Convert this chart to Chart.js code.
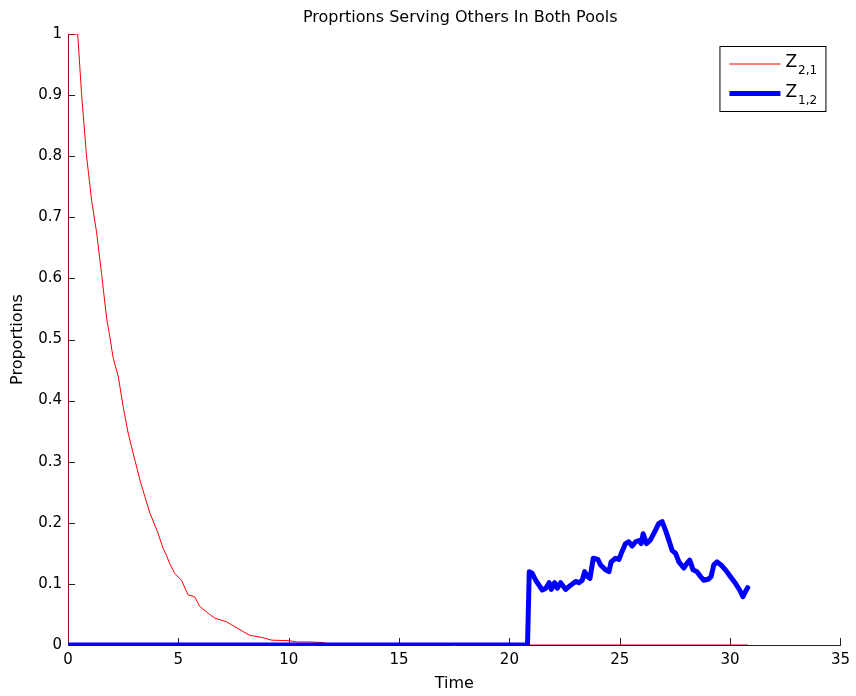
<!DOCTYPE html>
<html>
<head>
<meta charset="utf-8">
<title>Proprtions Serving Others In Both Pools</title>
<script src="https://cdn.jsdelivr.net/npm/chart.js@4/dist/chart.umd.min.js"></script>
<style>
  html, body { margin: 0; padding: 0; background: #fff; }
  #wrap { width: 856px; height: 696px; }
</style>
</head>
<body>
<div id="wrap"><canvas id="c" width="856" height="696"></canvas></div>
<script>
// Z_{2,1}: share of pool 2 serving pool 1 over time
const z21Time  = [0, 0, 0.44, 0.62, 0.84, 1.07, 1.3, 1.52, 1.75, 1.87, 2.05, 2.28, 2.5, 2.73, 2.95, 3.26, 3.48, 3.71, 4.08, 4.31, 4.46, 4.61, 4.84, 5.14, 5.34, 5.44, 5.74, 5.97, 6.35, 6.65, 7.18, 7.7, 7.93, 8.23, 8.83, 9.21, 10.04, 10.34, 10.95, 11.55, 12, 30.8];
const z21Value = [0, 1, 1, 0.899, 0.8, 0.728, 0.674, 0.608, 0.535, 0.51, 0.469, 0.439, 0.39, 0.346, 0.314, 0.27, 0.243, 0.216, 0.183, 0.158, 0.147, 0.133, 0.117, 0.106, 0.09, 0.082, 0.079, 0.063, 0.052, 0.044, 0.038, 0.027, 0.022, 0.016, 0.012, 0.008, 0.007, 0.005, 0.005, 0.004, 0, 0];

// Z_{1,2}: share of pool 1 serving pool 2 over time
const z12Time  = [0, 20.82, 20.9, 21.04, 21.19, 21.34, 21.49, 21.65, 21.8, 21.9, 22.05, 22.17, 22.32, 22.55, 22.78, 23.0, 23.15, 23.3, 23.41, 23.53, 23.65, 23.8, 24.01, 24.13, 24.36, 24.51, 24.61, 24.81, 24.96, 25.07, 25.26, 25.41, 25.56, 25.72, 25.87, 25.97, 26.06, 26.21, 26.39, 26.62, 26.77, 26.92, 27.07, 27.22, 27.37, 27.53, 27.68, 27.9, 28.05, 28.17, 28.32, 28.5, 28.66, 28.81, 29.03, 29.14, 29.26, 29.41, 29.59, 29.79, 30.01, 30.24, 30.43, 30.58, 30.69, 30.8];
const z12Value = [0, 0, 0.12, 0.117, 0.106, 0.098, 0.09, 0.093, 0.102, 0.091, 0.102, 0.093, 0.102, 0.091, 0.098, 0.104, 0.102, 0.106, 0.12, 0.112, 0.109, 0.142, 0.14, 0.131, 0.123, 0.12, 0.136, 0.142, 0.14, 0.15, 0.166, 0.169, 0.162, 0.169, 0.171, 0.166, 0.182, 0.166, 0.172, 0.188, 0.199, 0.202, 0.188, 0.172, 0.155, 0.15, 0.136, 0.126, 0.134, 0.139, 0.123, 0.12, 0.112, 0.106, 0.108, 0.112, 0.131, 0.136, 0.131, 0.123, 0.112, 0.101, 0.09, 0.079, 0.087, 0.094];

// Axis ticks
const xTicks = [0, 5, 10, 15, 20, 25, 30, 35];
const yTicks = [0, 0.1, 0.2, 0.3, 0.4, 0.5, 0.6, 0.7, 0.8, 0.9, 1];

// Titles
const chartTitle = 'Proprtions Serving Others In Both Pools';
const xTitle = 'Time';
const yTitle = 'Proportions';

// Legend text: main symbol and subscript for each series
const seriesNames = ['Z', 'Z'];
const seriesSubs  = ['2,1', '1,2'];

const FONT = "'DejaVu Sans', sans-serif";

function toPoints(xs, ys) { return xs.map((x, i) => ({ x: x, y: ys[i] })); }

// Chart title centred over the plot area
const plotTitle = {
  id: 'plotTitle',
  afterDraw(chart) {
    const { ctx, chartArea } = chart;
    ctx.save();
    ctx.fillStyle = '#000';
    ctx.font = '16px ' + FONT;
    ctx.textAlign = 'center';
    ctx.textBaseline = 'middle';
    ctx.fillText(chartTitle, (chartArea.left + chartArea.right) / 2 + 6, 18);
    ctx.restore();
  }
};

// Small tick marks pointing into the plot area
const inwardTicks = {
  id: 'inwardTicks',
  beforeDatasetsDraw(chart) {
    const { ctx, chartArea, scales } = chart;
    ctx.save();
    ctx.strokeStyle = '#222';
    ctx.lineWidth = 1;
    const len = 7;
    xTicks.forEach(v => {
      const px = Math.round(scales.x.getPixelForValue(v)) + 0.5;
      ctx.beginPath();
      ctx.moveTo(px, chartArea.bottom);
      ctx.lineTo(px, chartArea.bottom - len);
      ctx.stroke();
    });
    yTicks.forEach(v => {
      const py = Math.round(scales.y.getPixelForValue(v)) + 0.5;
      ctx.beginPath();
      ctx.moveTo(chartArea.left, py);
      ctx.lineTo(chartArea.left + len, py);
      ctx.stroke();
    });
    ctx.restore();
  }
};

// Boxed legend in the upper right with subscripted labels
const boxLegend = {
  id: 'boxLegend',
  afterDraw(chart) {
    const { ctx, chartArea } = chart;
    const right = chartArea.right - 15;
    const top = chartArea.top + 12;
    const w = 106, h = 65;
    const left = right - w;
    ctx.save();
    ctx.fillStyle = '#fff';
    ctx.fillRect(left, top, w, h);
    ctx.strokeStyle = '#000';
    ctx.lineWidth = 1;
    ctx.strokeRect(left + 0.5, top + 0.5, w, h);
    const order = [1, 0]; // Z_{2,1} first, then Z_{1,2}
    order.forEach((di, row) => {
      const ds = chart.data.datasets[di];
      const cy = top + 18 + row * 29.5;
      ctx.strokeStyle = ds.borderColor;
      ctx.lineWidth = ds.borderWidth;
      ctx.lineCap = 'butt';
      ctx.beginPath();
      ctx.moveTo(left + 10, cy);
      ctx.lineTo(left + 61, cy);
      ctx.stroke();
      ctx.fillStyle = '#000';
      ctx.textBaseline = 'alphabetic';
      ctx.font = '17px ' + FONT;
      ctx.fillText(seriesNames[row], left + 66, cy + 3);
      const zw = ctx.measureText(seriesNames[row]).width;
      ctx.font = '12px ' + FONT;
      ctx.fillText(seriesSubs[row], left + 66 + zw + 1, cy + 10);
    });
    ctx.restore();
  }
};

new Chart(document.getElementById('c'), {
  type: 'line',
  data: {
    datasets: [
      {
        label: 'Z1,2',
        data: toPoints(z12Time, z12Value),
        borderColor: '#0000ff',
        borderWidth: 5,
        borderJoinStyle: 'round',
        borderCapStyle: 'round',
        pointRadius: 0,
        tension: 0,
        order: 0
      },
      {
        label: 'Z2,1',
        data: toPoints(z21Time, z21Value),
        borderColor: '#ff0000',
        borderWidth: 1,
        pointRadius: 0,
        tension: 0,
        order: 1
      }
    ]
  },
  options: {
    responsive: false,
    animation: false,
    devicePixelRatio: 1,
    layout: { padding: { left: 0, right: 14, top: 34, bottom: 0 } },
    plugins: {
      legend: { display: false },
      tooltip: { enabled: false },
      title: { display: false }
    },
    scales: {
      x: {
        type: 'linear',
        min: 0,
        max: 35,
        afterFit(scale) { scale.height = 51; },
        afterBuildTicks(scale) { scale.ticks = xTicks.map(v => ({ value: v })); },
        grid: { display: true, drawOnChartArea: false, drawTicks: false },
        border: { display: true, color: '#222', width: 1 },
        ticks: {
          color: '#000',
          padding: 6,
          maxRotation: 0,
          font: { family: FONT, size: 15 },
          callback: v => String(v)
        },
        title: {
          display: true,
          text: xTitle,
          color: '#000',
          font: { family: FONT, size: 16 },
          padding: { top: 0, bottom: 3 }
        }
      },
      y: {
        type: 'linear',
        min: 0,
        max: 1,
        afterFit(scale) { scale.width = 68; },
        afterBuildTicks(scale) { scale.ticks = yTicks.map(v => ({ value: v })); },
        grid: { display: true, drawOnChartArea: false, drawTicks: false },
        border: { display: true, color: '#222', width: 1 },
        ticks: {
          color: '#000',
          padding: 6,
          font: { family: FONT, size: 15 },
          callback: v => String(Number(v.toFixed(1)))
        },
        title: {
          display: true,
          text: yTitle,
          color: '#000',
          font: { family: FONT, size: 16 },
          padding: { top: 8, bottom: 0 }
        }
      }
    }
  },
  plugins: [plotTitle, inwardTicks, boxLegend]
});
</script>
</body>
</html>
